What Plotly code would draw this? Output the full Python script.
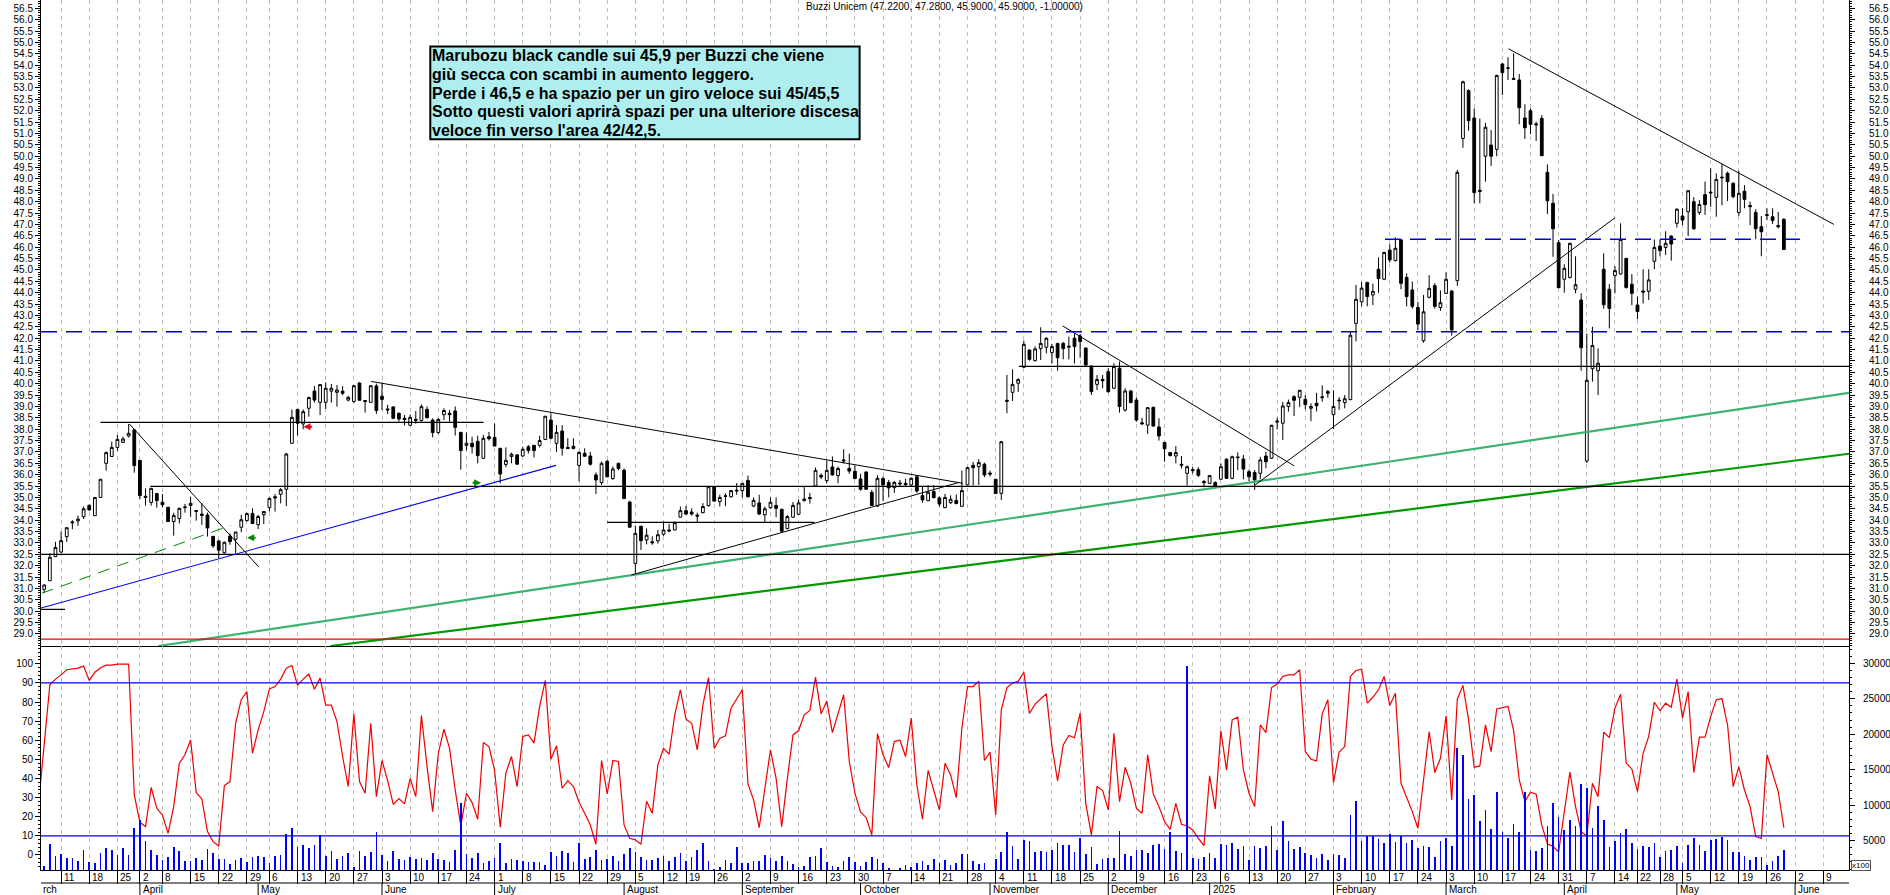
import plotly.graph_objects as go

# ---------- data ----------
first_candle = -3
opens = [30.96,31.34,32.4,32.6,33.28,33.88,33.97,34.15,34.65,34.2,35.0,36.5,36.8,37.2,37.42,37.7,37.97,36.63,35.05,34.78,35.17,34.79,34.57,33.94,34.07,34.55,34.65,34.38,34.27,34.23,33.29,33.09,32.57,33.3,33.16,33.69,33.98,34.3,33.8,34.24,34.55,35.03,35.14,35.36,37.38,38.87,38.23,38.92,39.68,39.18,39.18,39.67,39.62,39.67,39.28,39.22,40.03,39.26,39.18,39.9,39.45,38.89,38.98,38.7,38.48,38.17,38.43,38.38,38.87,38.4,37.85,38.64,38.7,38.8,37.86,37.29,37.38,37.47,36.72,37.67,37.64,37.16,36.45,36.8,36.87,36.82,37.23,37.29,37.29,37.55,38.4,37.38,37.92,37.2,37.25,36.41,36.94,36.82,35.99,35.65,36.59,35.83,36.5,36.2,34.8,
 32.1,33.73,33.13,33.05,33.09,33.38,33.57,33.57,34.13,34.42,34.36,34.22,34.33,34.64,35.47,34.82,35.07,35.03,35.32,35.3,35.75,34.62,34.76,34.24,34.55,34.65,34.48,33.63,34.13,34.26,34.86,35.0,35.5,35.97,35.74,36.34,35.96,36.65,36.28,36.15,35.81,36.12,35.22,34.62,35.83,35.66,35.43,35.63,35.62,35.55,35.91,35.08,34.86,35.26,34.98,34.55,34.77,34.87,34.61,35.55,36.41,36.35,36.46,36.07,35.8,35.18,39.27,39.62,40.02,40.72,41.48,41.01,41.54,41.6,41.37,41.77,41.77,41.65,42.0,42.1,41.57,40.78,39.97,40.19,40.53,39.8,40.68,38.84,39.68,39.28,38.28,38.18,38.96,38.1,37.42,36.97,36.82,36.46,36.06,36.22,36.22,35.7,35.62,35.66,35.8,36.68,35.84,36.78,36.69,36.13,36.1,
 36.06,36.82,36.72,38.31,38.26,39.0,39.43,39.4,39.31,38.92,39.14,39.38,39.65,38.64,39.28,39.17,39.3,42.65,43.6,44.45,43.9,45.03,44.59,45.87,45.41,46.32,44.67,44.12,43.35,41.89,43.8,44.31,43.35,43.97,44.07,44.53,50.78,52.88,51.68,48.5,50.0,50.49,50.3,54.05,53.86,53.42,53.35,51.68,52.0,51.42,51.66,49.29,47.93,46.2,44.59,44.67,44.15,43.68,36.6,40.66,40.57,45.03,44.15,44.75,44.82,45.51,44.37,43.46,44.07,44.06,45.38,46.05,45.99,46.49,47.05,47.37,47.56,48.0,47.53,48.31,48.42,48.19,49.08,49.25,48.81,47.52,48.46,47.83,47.53,46.9,47.43,47.34,46.95,47.22]
highs = [31.18,32.55,33.05,33.5,33.67,34.0,34.2,34.6,34.7,35.0,35.8,37.02,37.45,37.75,37.67,38.23,38.0,36.63,35.4,35.4,35.2,35.15,34.58,34.33,34.55,34.71,35.03,34.45,34.74,34.33,33.29,33.11,33.06,33.42,33.48,34.23,34.33,34.52,34.23,34.4,34.99,35.15,35.41,36.95,38.87,38.87,38.87,39.43,39.9,39.96,40.06,39.99,39.94,39.89,39.46,39.94,40.06,39.27,39.93,40.0,40.05,39.07,39.0,38.73,38.62,38.65,38.8,39.09,39.0,38.48,38.48,38.92,38.85,39.0,37.86,37.86,37.67,37.71,37.75,37.88,38.26,37.16,37.2,36.97,36.9,37.23,37.3,37.3,37.71,38.57,38.7,38.18,38.18,37.6,37.6,37.03,37.16,37.0,36.1,36.58,36.65,36.36,36.53,36.27,34.85,
 33.76,33.76,33.64,33.29,33.57,33.94,33.84,33.94,34.6,34.63,34.52,34.33,34.75,35.47,35.47,35.12,35.18,35.33,35.63,35.62,35.96,35.0,35.12,34.6,35.0,35.0,34.5,34.23,34.8,34.9,35.47,35.2,36.32,36.06,36.63,36.8,36.36,37.12,36.93,36.4,36.04,36.14,35.33,35.98,35.92,35.77,35.72,35.77,35.82,35.88,35.98,35.47,35.54,35.54,35.04,35.16,35.09,35.13,36.18,36.35,36.57,36.68,36.53,36.18,35.8,37.47,40.38,40.63,40.24,41.89,41.51,41.64,42.48,42.04,41.75,41.8,41.84,42.07,42.21,42.19,41.57,40.78,40.38,40.38,40.68,40.9,40.97,39.8,39.72,39.4,38.5,38.97,38.99,38.48,37.43,37.0,37.26,36.82,36.4,36.33,36.33,35.77,35.99,35.7,36.5,36.72,36.84,36.98,36.87,36.23,36.2,
 36.78,37.01,38.19,38.5,39.2,39.3,39.49,39.72,39.5,39.14,39.6,39.93,39.73,39.71,39.41,39.5,42.3,44.34,44.47,44.48,44.4,45.55,45.8,46.13,46.43,46.35,44.85,44.49,43.6,43.9,44.77,44.42,44.1,44.9,44.12,49.4,53.32,52.94,52.1,51.65,51.47,51.15,53.58,54.1,54.35,54.52,53.61,52.28,52.1,51.52,51.8,49.64,48.34,46.32,45.25,46.2,45.6,43.97,42.2,42.5,41.55,45.73,44.38,45.17,47.05,45.51,44.82,43.82,45.03,45.03,46.34,46.34,46.7,46.52,47.71,47.71,48.51,48.2,48.07,48.88,49.47,49.24,49.66,49.32,48.85,49.36,48.73,48.0,47.67,47.37,47.71,47.71,47.55,47.28]
lows = [30.8,31.34,32.4,32.55,33.05,33.6,33.75,34.05,34.43,34.2,35.0,36.18,36.8,37.05,37.4,37.64,36.09,34.93,34.64,34.64,34.55,34.57,33.94,33.32,33.86,34.33,34.15,33.98,33.79,33.28,32.78,32.31,32.54,32.92,32.54,33.47,33.94,33.85,33.61,33.83,34.38,34.38,34.74,34.62,37.37,37.72,38.0,38.55,39.17,38.62,38.89,39.17,38.99,39.5,39.22,39.16,39.27,38.73,39.18,38.67,38.84,38.67,38.44,38.33,38.16,38.14,38.24,38.33,38.48,37.64,37.79,38.4,38.33,37.72,36.22,37.06,36.93,36.5,36.69,37.5,37.26,35.62,36.33,36.5,36.46,36.8,36.93,36.76,37.2,37.52,37.55,37.0,36.84,37.15,37.1,35.71,36.8,36.4,35.15,35.55,35.88,35.77,36.2,34.95,33.69,
 31.59,32.69,32.94,32.92,32.97,33.31,33.47,33.55,34.13,34.23,34.2,33.92,34.3,34.6,34.81,34.6,34.62,35.0,35.12,35.0,35.0,34.57,34.23,33.9,34.5,34.13,33.51,33.6,34.1,34.23,34.82,34.73,35.48,35.8,35.62,35.96,35.62,36.5,36.04,35.8,35.3,35.33,34.62,34.6,34.84,35.0,35.2,35.47,35.5,35.47,35.2,34.77,34.83,34.96,34.6,34.53,34.71,34.7,34.6,35.53,35.53,35.55,35.89,35.92,35.15,34.89,38.7,39.24,39.64,40.7,41.01,40.98,41.04,41.33,40.89,40.57,41.07,41.07,40.89,41.14,40.8,39.5,39.72,39.8,39.6,39.76,38.73,38.77,39.14,38.33,38.18,37.79,38.1,37.5,36.57,36.8,36.5,36.27,35.52,36.05,35.9,35.45,35.6,35.47,35.77,35.81,35.8,36.2,35.8,35.72,35.33,
 35.8,36.28,36.69,37.99,37.53,38.77,38.58,38.97,38.87,38.35,38.78,39.21,39.38,38.0,38.85,38.92,39.27,41.86,43.4,43.4,43.46,44.0,44.55,45.32,45.38,44.15,43.4,43.3,42.36,41.8,43.75,43.3,43.2,43.94,42.11,44.3,50.37,51.12,47.93,47.93,48.88,49.57,50.0,52.69,53.35,53.35,51.4,50.76,50.97,50.67,50.02,47.46,45.58,44.22,44.0,44.62,43.97,40.57,36.52,40.09,39.5,43.3,42.43,43.97,44.8,44.18,43.45,42.83,43.53,43.68,45.03,45.6,45.66,45.41,46.86,46.97,46.49,46.76,47.42,47.42,47.78,47.34,47.84,48.03,48.15,47.37,47.71,46.97,46.35,45.6,47.19,47.02,46.83,45.9]
closes = [31.15,32.37,32.8,33.1,33.67,33.92,34.05,34.5,34.45,35.0,35.8,36.97,37.2,37.55,37.57,37.82,36.4,35.08,35.0,35.4,34.86,34.68,33.94,34.21,34.52,34.58,34.74,34.42,34.21,33.66,32.87,32.68,33.03,33.06,33.48,34.02,34.29,33.85,34.16,34.38,34.96,34.98,35.34,36.91,38.52,38.26,38.77,39.39,39.28,39.96,39.8,39.8,39.72,39.58,39.4,39.91,39.27,39.22,39.91,38.82,39.31,38.85,38.48,38.45,38.42,38.52,38.39,38.99,38.5,37.85,38.43,38.82,38.64,38.08,37.06,37.38,37.23,36.84,37.6,37.58,37.26,36.03,36.63,36.9,36.46,37.12,37.06,37.06,37.5,38.57,37.6,37.86,37.16,37.15,37.15,36.98,36.81,36.46,35.77,36.5,35.91,36.25,36.27,34.95,33.69,
 33.42,33.1,33.34,33.01,33.36,33.57,33.53,33.89,34.42,34.27,34.27,34.18,34.6,35.47,34.84,35.0,35.05,35.3,35.29,35.62,35.03,34.87,34.27,34.5,34.79,34.52,33.51,34.16,34.65,34.76,34.93,34.95,36.19,35.9,36.19,35.99,36.27,36.61,36.16,35.83,35.36,35.36,34.65,35.84,35.55,35.42,35.66,35.6,35.56,35.84,35.28,34.89,35.23,34.99,34.71,35.0,34.92,34.73,35.3,36.31,36.31,36.53,35.99,36.03,35.17,37.45,39.23,39.97,40.18,41.73,41.07,41.53,41.77,42.0,41.63,41.14,41.54,41.61,41.63,41.85,40.82,39.65,40.18,40.13,39.65,40.75,39.0,39.68,39.17,38.4,38.24,38.95,38.14,37.7,37.14,36.84,36.97,36.42,36.35,36.18,35.97,35.65,35.96,35.5,36.35,35.84,36.79,36.75,36.25,35.91,35.77,
 36.65,36.57,38.17,38.35,39.02,39.17,39.27,39.71,39.08,39.0,39.03,39.42,39.58,39.0,39.25,39.34,42.13,43.71,44.2,43.83,44.06,44.62,45.77,45.44,45.95,44.41,43.83,43.4,42.62,43.16,44.19,43.4,43.56,44.59,42.36,49.29,53.27,51.56,48.4,48.45,51.27,50.0,53.55,53.67,53.88,53.38,52.13,51.25,51.4,51.38,50.02,48.04,46.81,44.22,45.07,46.17,44.35,41.58,40.15,41.68,40.9,43.47,43.31,44.97,46.34,44.23,43.97,43.17,44.03,44.56,45.99,45.85,46.17,46.14,47.67,47.19,48.48,46.81,47.88,47.87,48.39,48.98,49.05,48.88,48.22,48.37,48.1,47.78,46.81,46.68,47.4,47.17,46.9,45.9]

first_osc = -4
oscillator = [27,58,89,92,94.2,96.9,97.2,97.7,98.8,91.3,95.6,97.9,99.3,99.3,99.8,99.8,99.8,31.4,17.1,14.8,35.3,24.4,20.9,11.3,25.3,48,52.4,60.2,32.6,29.3,12.2,7,4.7,36.3,38.4,68.9,81.2,85.5,53.2,65.4,75,86.9,88.1,92,97.7,99.1,88.7,92,94.6,86.7,92.5,78.4,78.4,69.8,51.5,35.8,73.8,38.4,32.3,68.9,30.5,49.4,38.9,26.5,29.5,26.7,40.1,30.5,72.9,46.2,22.7,53.2,65.8,55.8,34,15.2,32.3,27.4,18.7,58.8,56.7,44.2,14.5,42.8,51.5,35.8,62,62.8,58.5,77.7,91.3,50.1,57.1,34.9,38.9,35.8,27.6,21.8,15.7,5.6,49.4,31.9,49.4,48.9,15.7,8.7,
 7.9,5.6,28.1,21.8,47.1,55.8,52.7,73.3,86.4,71,68.9,55,78.5,92.8,55.7,61,62.3,76.8,81.5,86.4,37.2,28.8,14.3,35.8,55,40.1,14.8,40.1,62.8,65.1,73.3,75.6,93,73.8,80.5,64,74.2,83.8,48.9,32.3,22.5,19.5,10.5,63.4,52.4,45.7,59.3,60,51.5,71.6,36.6,18.7,44.2,34,23.6,48,41.9,30,66.3,88.1,88.1,90.9,49.4,53.8,20.9,75.9,87.6,89.9,90.8,95.6,74,78.9,81.5,84.3,56.7,38.7,57.6,62.5,61.3,74.2,27,10.5,35.8,33.7,23.6,63.7,27.9,45.9,37.5,24.4,21.8,52.4,31.9,25.3,17.5,13.4,27,16.1,15.2,13.1,8.7,4.9,41.4,24.1,64.9,44.5,70.7,72.1,44.5,32.3,25.3,
 68,64,87.6,89.4,93.4,94.2,94.2,96.9,54.1,50.1,49.2,73.8,81.2,37.9,53.8,56.7,93.4,96.5,97.2,79.4,82.5,86.4,93.4,78.2,84.6,37.5,30.5,22.7,14,39.3,64.6,43.1,50.6,72.8,28.8,81.5,88.7,70.7,45.9,46.6,68.1,54.1,76.4,77.1,77.7,65.1,39.3,27.9,32.8,31.8,15.7,5.8,4.4,1.7,21.8,43.3,25.3,12.2,9.9,37.5,30.5,64.2,61.4,76.8,84.1,48,45,33.2,53.2,62,79.9,75.4,79.4,77.3,92,71.6,85.5,43.1,61.6,61.6,72.4,81.2,81.8,68,35.8,46.2,34,25.3,9.6,8.6,52.4,42.8,33.2,14.3]

volumes = [1426,4528,2836,3118,2554,2554,2131,3682,1990,1849,3212,3917,3682,2977,3964,2977,6737,7912,4951,3682,2977,2272,2648,4058,3541,2131,2131,2554,2272,3823,3306,2413,2413,1708,2272,2554,1990,2695,2836,2695,1849,2836,2977,5938,6784,4105,4387,3964,4387,5750,2836,3541,2413,2836,3306,1285,3541,2836,3400,6220,2977,2131,3541,2413,2272,2695,2413,2554,2272,3259,2413,2272,1990,3682,10262,3118,2554,3259,1849,2131,2554,4669,1849,2413,2272,2131,1990,1990,1990,1567,3400,2836,3541,3259,1990,4669,2413,2695,3682,2272,2413,2836,2131,3118,
 3917,3447,2695,2272,2272,2554,2836,2131,2695,3259,2131,2695,3682,4669,2131,1003,1285,2272,1849,4105,1849,1849,2131,2131,2977,2554,2131,2836,2131,1708,1285,1426,2695,2836,3964,1990,1426,1285,2131,2695,1990,1426,1990,2695,2413,1849,1144,862,1144,1567,1285,1849,2131,1567,2413,1849,2272,1567,1849,3118,3118,2131,1708,1849,862,2413,3400,6220,4246,2413,5092,4951,3400,3541,3400,3682,4669,4387,4387,3400,5374,3118,4105,1708,2413,2554,2554,6361,3118,2836,3682,3682,3259,4387,4528,3823,6220,3541,3259,29626,2554,2413,2695,3259,2554,4528,4387,4669,3823,4246,2272,4246,
 3964,4246,7066,3682,7771,4951,3823,4105,3259,2977,2554,3118,2272,3118,2977,2554,8617,10591,4951,5703,5703,5233,4669,5938,4810,5703,4669,5092,3964,4246,4105,2695,4951,5374,4246,18064,17077,10873,11437,7771,9322,6643,11860,6220,5374,7348,6220,11907,3682,3541,3964,7066,10309,8335,6502,7912,7066,12988,12377,6784,9886,7912,4105,4951,6079,6643,4669,3823,4246,4105,4669,2742,3541,3682,4246,1849,4387,5374,4387,3541,5092,5233,5515,5092,3400,3400,2836,2272,2695,2695,1567,2131,2836,3682]

week_idx = [0,5,10,14,18,23,28,33,37,42,47,52,57,62,67,72,77,82,87,92,97,102,107,111,116,121,126,131,136,141,146,151,156,161,166,171,176,181,186,191,196,201,206,211,216,221,226,231,236,241,246,251,256,261,266,271,276,280,284,288,293,298,303,308,313]
week_labels = ["11","18","25","2","8","15","22","29","6","13","20","27","3","10","17","24","1","8","15","22","29","5","12","19","26","2","9","16","23","30","7","14","21","28","4","11","18","25","2","9","16","23","6","13","20","27","3","10","17","24","3","10","17","24","31","7","14","22","28","5","12","19","26","2","9"]
month_idx = [14,35,57,77,100,121,142,165,186,204,226,246,267,287,308]
month_labels = ["April","May","June","July","August","September","October","November","December","2025","February","March","April","May","June"]

price_ticks = [29+0.5*k for k in range(56)]
volume_ticks = [5000,10000,15000,20000,25000,30000]
x_left, x_right = -3.57, 317.57
price_low, price_high = 28.47, 56.865

# level and trend lines: (x0, p0, x1, p1)
black_thin = [(12.13,38.23,35.08,31.95),(55.08,40.1,160.2,35.62),(101.3,31.59,159.5,35.66),(177.9,42.54,219.0,36.39),(211.99,35.53,276.04,47.3),(257.1,54.72,314.9,47.0)]
black_levels = [(170.1,40.76,x_right,40.76),(6.98,38.3,75.05,38.3),(15.84,35.49,x_right,35.49),(x_left,32.5,x_right,32.5),(x_left,30.08,0.71,30.08),(96.98,33.9,133.8,33.9)]
blue_dashed = [(x_left,42.28,x_right,42.28),(235.15,46.35,308.86,46.35)]
blue_solid = [(x_left,30.14,87.9,36.41)]
green_dashed = [(-3.43,30.79,30.1,33.77)]
green_mid = [(17.26,28.47,x_right,39.6)]
green_dark = [(47.87,28.47,x_right,36.92)]
red_level = [(x_left,28.77,x_right,28.77)]

note_lines = ["Marubozu black candle sui 45,9 per Buzzi che viene",
              "giù secca con scambi in aumento leggero.",
              "Perde i 46,5 e ha spazio per un giro veloce sui 45/45,5",
              "Sotto questi valori aprirà spazi per una ulteriore discesa",
              "veloce fin verso l'area 42/42,5."]
title_text = "Buzzi Unicem (47.2200, 47.2800, 45.9000, 45.9000, -1.00000)"

# ---------- figure ----------
FONT = "Liberation Sans"
W, H, L, R, B = 1890, 895, 41.4, 40.6, 25
PH = H - B
split = 224 / PH

fig = go.Figure()
fig.add_trace(go.Candlestick(
    x=list(range(first_candle, first_candle + len(closes))),
    open=opens, high=highs, low=lows, close=closes,
    increasing=dict(line=dict(color="black", width=1), fillcolor="white"),
    decreasing=dict(line=dict(color="black", width=1), fillcolor="black"),
    xaxis="x", yaxis="y", showlegend=False))

def add_lines(segs, color, width, dash="solid"):
    for x0, p0, x1, p1 in segs:
        fig.add_trace(go.Scatter(x=[x0, x1], y=[p0, p1], mode="lines",
                                 line=dict(color=color, width=width, dash=dash),
                                 xaxis="x", yaxis="y3", showlegend=False, hoverinfo="skip"))

add_lines(green_mid, "#3cb371", 2.2)
add_lines(green_dark, "#009900", 2.2)
add_lines(black_levels, "black", 1.2)
add_lines(black_thin, "black", 1)
add_lines(blue_solid, "#0000ee", 1.1)
add_lines(blue_dashed, "#0000cc", 1.4, "16px,9px")
add_lines(green_dashed, "#008800", 1, "12px,8px")
add_lines(red_level, "#ee0000", 1.3)

fig.add_trace(go.Bar(x=list(range(first_candle, first_candle + len(volumes))), y=volumes,
                     width=0.12, marker=dict(color="#0000ff", line=dict(width=0)),
                     xaxis="x2", yaxis="y4", showlegend=False))
fig.add_trace(go.Scatter(x=list(range(first_osc, first_osc + len(oscillator))), y=oscillator,
                         mode="lines", line=dict(color="#ee0000", width=1.2),
                         xaxis="x2", yaxis="y2", showlegend=False))
for lvl in (90, 10):
    fig.add_trace(go.Scatter(x=[x_left, x_right], y=[lvl, lvl], mode="lines",
                             line=dict(color="#0000ee", width=1.3),
                             xaxis="x2", yaxis="y2", showlegend=False, hoverinfo="skip"))

tickfont = dict(family=FONT, size=10, color="black")
def yax(**kw):
    base = dict(showgrid=False, zeroline=False, showline=True, linecolor="black", linewidth=1,
                ticks="outside", tickcolor="black", tickfont=tickfont, ticklen=5, tickwidth=1)
    base.update(kw)
    return base

xbase = dict(range=[x_left, x_right], type="linear", tickvals=week_idx, showticklabels=False,
             showgrid=True, gridcolor="#bdbdbd", griddash="4px,4px", gridwidth=1, zeroline=False,
             showline=True, linecolor="black", linewidth=1, ticks="")

annotations = []
pxx = lambda px: (px - L) / (W - L - R)
pxy = lambda py: 1 - py / PH

for i, t in zip(week_idx, week_labels):
    annotations.append(dict(x=i, y=pxy(877), xref="x", yref="paper", text=t, showarrow=False,
                            xanchor="left", yanchor="middle", xshift=1, font=tickfont))
for i, t in zip(month_idx, month_labels):
    annotations.append(dict(x=i, y=pxy(889), xref="x", yref="paper", text=t, showarrow=False,
                            xanchor="left", yanchor="middle", xshift=1, font=tickfont))
annotations.append(dict(x=0, y=pxy(889), xref="paper", yref="paper", text="rch", showarrow=False,
                        xanchor="left", yanchor="middle", font=tickfont))
annotations.append(dict(x=pxx(945), y=pxy(7), xref="paper", yref="paper", text=title_text, showarrow=False,
                        xanchor="center", yanchor="middle", font=dict(family=FONT, size=10, color="black")))
for line, yy in zip(note_lines, (55.7, 74.5, 93.3, 111.7, 130.3)):
    annotations.append(dict(x=pxx(430.3), y=pxy(yy), xref="paper", yref="paper", text="<b>%s</b>" % line,
                            showarrow=False, xanchor="left", yanchor="middle", align="left",
                            font=dict(family=FONT, size=16, color="black")))
annotations.append(dict(x=pxx(1851.5), y=pxy(860), xref="paper", yref="paper", text="x100", showarrow=False,
                        xanchor="left", yanchor="top", borderpad=0, bordercolor="#555555", borderwidth=1,
                        font=dict(family=FONT, size=8, color="black")))
for x, p, col, ax in [(43.07, 38.11, "#ee0022", 10), (33.04, 33.23, "#008800", 10), (74.6, 35.65, "#008800", -10)]:
    annotations.append(dict(x=x, y=p, xref="x", yref="y", text="", showarrow=True, arrowhead=2,
                            arrowsize=0.7, arrowwidth=2, arrowcolor=col, ax=ax, ay=0))

shapes = [dict(type="rect", xref="paper", yref="paper", x0=pxx(430.7), x1=pxx(860), y0=pxy(46.5), y1=pxy(139.2),
               fillcolor="#afeeee", line=dict(color="black", width=2)),
          dict(type="line", xref="paper", yref="paper", x0=0, x1=1, y0=pxy(883), y1=pxy(883),
               line=dict(color="black", width=1.2))]
for i in month_idx:
    shapes.append(dict(type="line", xref="x", yref="paper", x0=i, x1=i, y0=pxy(883), y1=pxy(895),
                       line=dict(color="black", width=1)))

fig.update_layout(
    width=W, height=H, margin=dict(l=L, r=R, t=0, b=B, pad=0, autoexpand=False),
    paper_bgcolor="white", plot_bgcolor="white", showlegend=False, font=dict(family=FONT, size=10),
    bargap=0,
    xaxis=dict(domain=[0, 1], anchor="y", **xbase, rangeslider=dict(visible=False)),
    xaxis2=dict(domain=[0, 1], anchor="y2", matches="x", **{**xbase, "ticks": "outside", "ticklen": 13,
                                                            "tickcolor": "black", "tickwidth": 1}),
    yaxis=yax(domain=[split, 1], anchor="x", side="left", range=[price_low, price_high],
              tickvals=price_ticks, ticktext=["%.1f" % v for v in price_ticks],
              minor=dict(dtick=0.1, ticks="outside", ticklen=2, tickcolor="black")),
    yaxis3=yax(domain=[split, 1], anchor="x", side="right", overlaying="y", range=[price_low, price_high],
               tickvals=price_ticks, ticktext=["%.1f" % v for v in price_ticks],
               minor=dict(dtick=0.1, ticks="outside", ticklen=2, tickcolor="black"), ticklabelstandoff=12),
    yaxis2=yax(domain=[0, split], anchor="x2", side="left", range=[-7.85, 109.3],
               tickvals=list(range(0, 101, 10)), minor=dict(dtick=2, ticks="outside", ticklen=2, tickcolor="black")),
    yaxis4=yax(domain=[0, split], anchor="x2", side="right", overlaying="y2", range=[862, 32440],
               tickvals=volume_ticks, ticktext=[str(v) for v in volume_ticks], ticklabelstandoff=6,
               minor=dict(dtick=1000, ticks="outside", ticklen=2, tickcolor="black")),
    annotations=annotations, shapes=shapes, hovermode=False,
)
assert len(opens) == len(highs) == len(lows) == len(closes) == 310, (len(opens), len(highs), len(lows), len(closes))
assert len(volumes) == 310, len(volumes)
assert len(oscillator) == 311, len(oscillator)
assert len(week_idx) == len(week_labels)

fig.write_html("out.html", config=dict(displayModeBar=False),
               post_script="document.body.style.margin='0';document.body.style.overflow='hidden';")
